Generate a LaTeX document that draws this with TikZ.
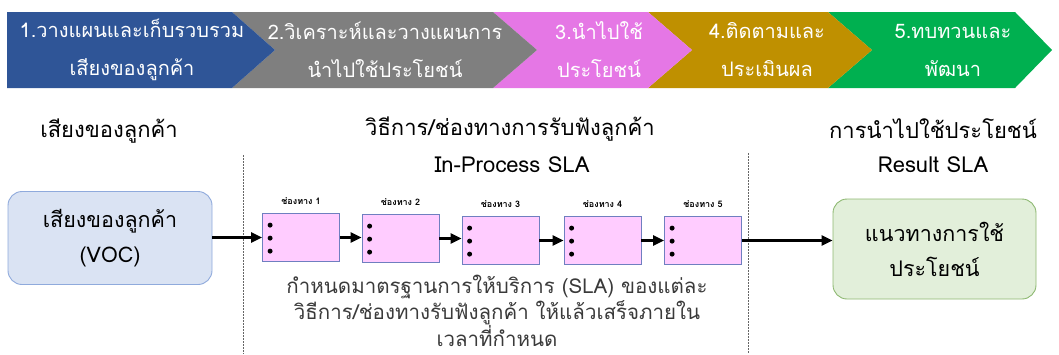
\documentclass[tikz,border=0pt]{standalone}
\usepackage{fontspec}
\setmainfont[Script=Thai]{Loma}
\usetikzlibrary{arrows.meta}
\definecolor{cblue}{HTML}{2F5597}
\definecolor{cgray}{HTML}{7F7F7F}
\definecolor{cpink}{HTML}{E577E5}
\definecolor{cgold}{HTML}{BF9000}
\definecolor{cgreen}{HTML}{00B050}
\definecolor{vocfill}{HTML}{DAE3F3}
\definecolor{vocdraw}{HTML}{8FAADC}
\definecolor{resfill}{HTML}{E2EFDA}
\definecolor{resdraw}{HTML}{8DB871}
\definecolor{chfill}{HTML}{FFCCFF}
\definecolor{chdraw}{HTML}{6F7FC0}
\definecolor{txtdark}{HTML}{3A3A3A}
\tikzset{
  hdrtext/.style={text=white, align=center, font=\fontsize{20}{38}\selectfont, inner sep=0pt},
  headtext/.style={text=black, font=\fontsize{22}{26}\selectfont, inner sep=0pt},
  boxtext/.style={align=center, font=\fontsize{21.5}{35}\selectfont, inner sep=0pt},
  chbox/.style={draw=chdraw, fill=chfill, line width=0.8pt, minimum width=77pt, minimum height=48pt, inner sep=0pt},
  chlabel/.style={font=\bfseries\fontsize{9}{10}\selectfont, inner sep=0pt, anchor=south},
  bigarrow/.style={line width=2.6pt, -{Triangle[length=11pt,width=10pt]}},
  sep/.style={dash pattern=on 1.5pt off 1.5pt, line width=0.8pt, draw=gray!80!black},
  bul/.style={circle, fill=black, inner sep=0pt, minimum size=5pt}
}
\begin{document}
\begin{tikzpicture}[x=1pt,y=-1pt]
\useasboundingbox (0,0) rectangle (1059,354);
% chevrons
\fill[cgreen] (828,12) -- (1015,12) -- (1052,50) -- (1015,88) -- (828,88) -- (872,50) -- cycle;
\fill[cgold] (648,12) -- (828,12) -- (872,50) -- (828,88) -- (648,88) -- (692,50) -- cycle;
\fill[cpink] (493,12) -- (648,12) -- (692,50) -- (648,88) -- (493,88) -- (537,50) -- cycle;
\fill[cgray] (232,12) -- (493,12) -- (537,50) -- (493,88) -- (232,88) -- (275,50) -- cycle;
\fill[cblue] (7,12) -- (232,12) -- (275,50) -- (232,88) -- (7,88) -- cycle;
\node[hdrtext] (h1) at (132,50) {1.วางแผนและเก็บรวบรวม\\เสียงของลูกค้า};
\node[hdrtext] (h2) at (385,50) {2.วิเคราะห์และวางแผนการ\\นำไปใช้ประโยชน์};
\node[hdrtext] (h3) at (599,50) {3.นำไปใช้\\ประโยชน์};
\node[hdrtext] (h4) at (767,50) {4.ติดตามและ\\ประเมินผล};
\node[hdrtext] (h5) at (953,50) {5.ทบทวนและ\\พัฒนา};
% section headings
\node[headtext] (s1) at (109,131) {เสียงของลูกค้า};
\node[headtext] (s2) at (510,129) {วิธีการ/ช่องทางการรับฟังลูกค้า};
\node[headtext] (s2b) at (512,165) {In-Process SLA};
\node[headtext] (s3) at (933,129) {การนำไปใช้ประโยชน์};
\node[headtext] (s3b) at (933,165) {Result SLA};
% separators
\coordinate (d1a) at (243,155); \coordinate (d1b) at (243,354);
\coordinate (d2a) at (748,153); \coordinate (d2b) at (748,354);
\draw[sep] (d1a) -- (d1b);
\draw[sep] (d2a) -- (d2b);
% VOC box
\node[draw=vocdraw, fill=vocfill, line width=0.9pt, rounded corners=14pt, minimum width=204pt, minimum height=93pt, inner sep=0pt] (voc) at (110,238) {};
\node[boxtext] (voct) at (voc.center) {เสียงของลูกค้า\\(VOC)};
% result box
\node[draw=resdraw, fill=resfill, line width=0.9pt, rounded corners=14pt, minimum width=203pt, minimum height=100pt, inner sep=0pt] (res) at (934.5,249) {};
\node[boxtext] (rest) at (res.center) {แนวทางการใช้\\ประโยชน์};
% channels
\foreach \i/\x/\y in {1/301/237.5,2/400.5/238.5,3/500.5/240.5,4/602.5/240.5,5/703/240.5}{
  \node[chbox] (c\i) at (\x,\y) {};
  \node[chlabel] (l\i) at ([yshift=8pt]c\i.north) {ช่องทาง \i};
  \node[bul] (b\i a) at ([xshift=8pt,yshift=-12pt]c\i.north west) {};
  \node[bul] (b\i b) at ([xshift=8pt,yshift=-25pt]c\i.north west) {};
  \node[bul] (b\i c) at ([xshift=8pt,yshift=-38pt]c\i.north west) {};
}
% arrows
\draw[bigarrow] (voc.east |- c1.west) -- (c1.west);
\draw[bigarrow] (c1.east) -- (c2.west |- c1.east);
\draw[bigarrow] (c2.east) -- (c3.west |- c2.east);
\draw[bigarrow] (c3.east) -- (c4.west |- c3.east);
\draw[bigarrow] (c4.east) -- (c5.west |- c4.east);
\draw[bigarrow] (c5.east) -- (res.west |- c5.east);
% bottom text
\node[align=center, text=txtdark, font=\fontsize{20.5}{26}\selectfont, inner sep=0pt] (note) at (497,311) {กำหนดมาตรฐานการให้บริการ (SLA) ของแต่ละ\\วิธีการ/ช่องทางรับฟังลูกค้า ให้แล้วเสร็จภายใน\\เวลาที่กำหนด};
\end{tikzpicture}
\end{document}
